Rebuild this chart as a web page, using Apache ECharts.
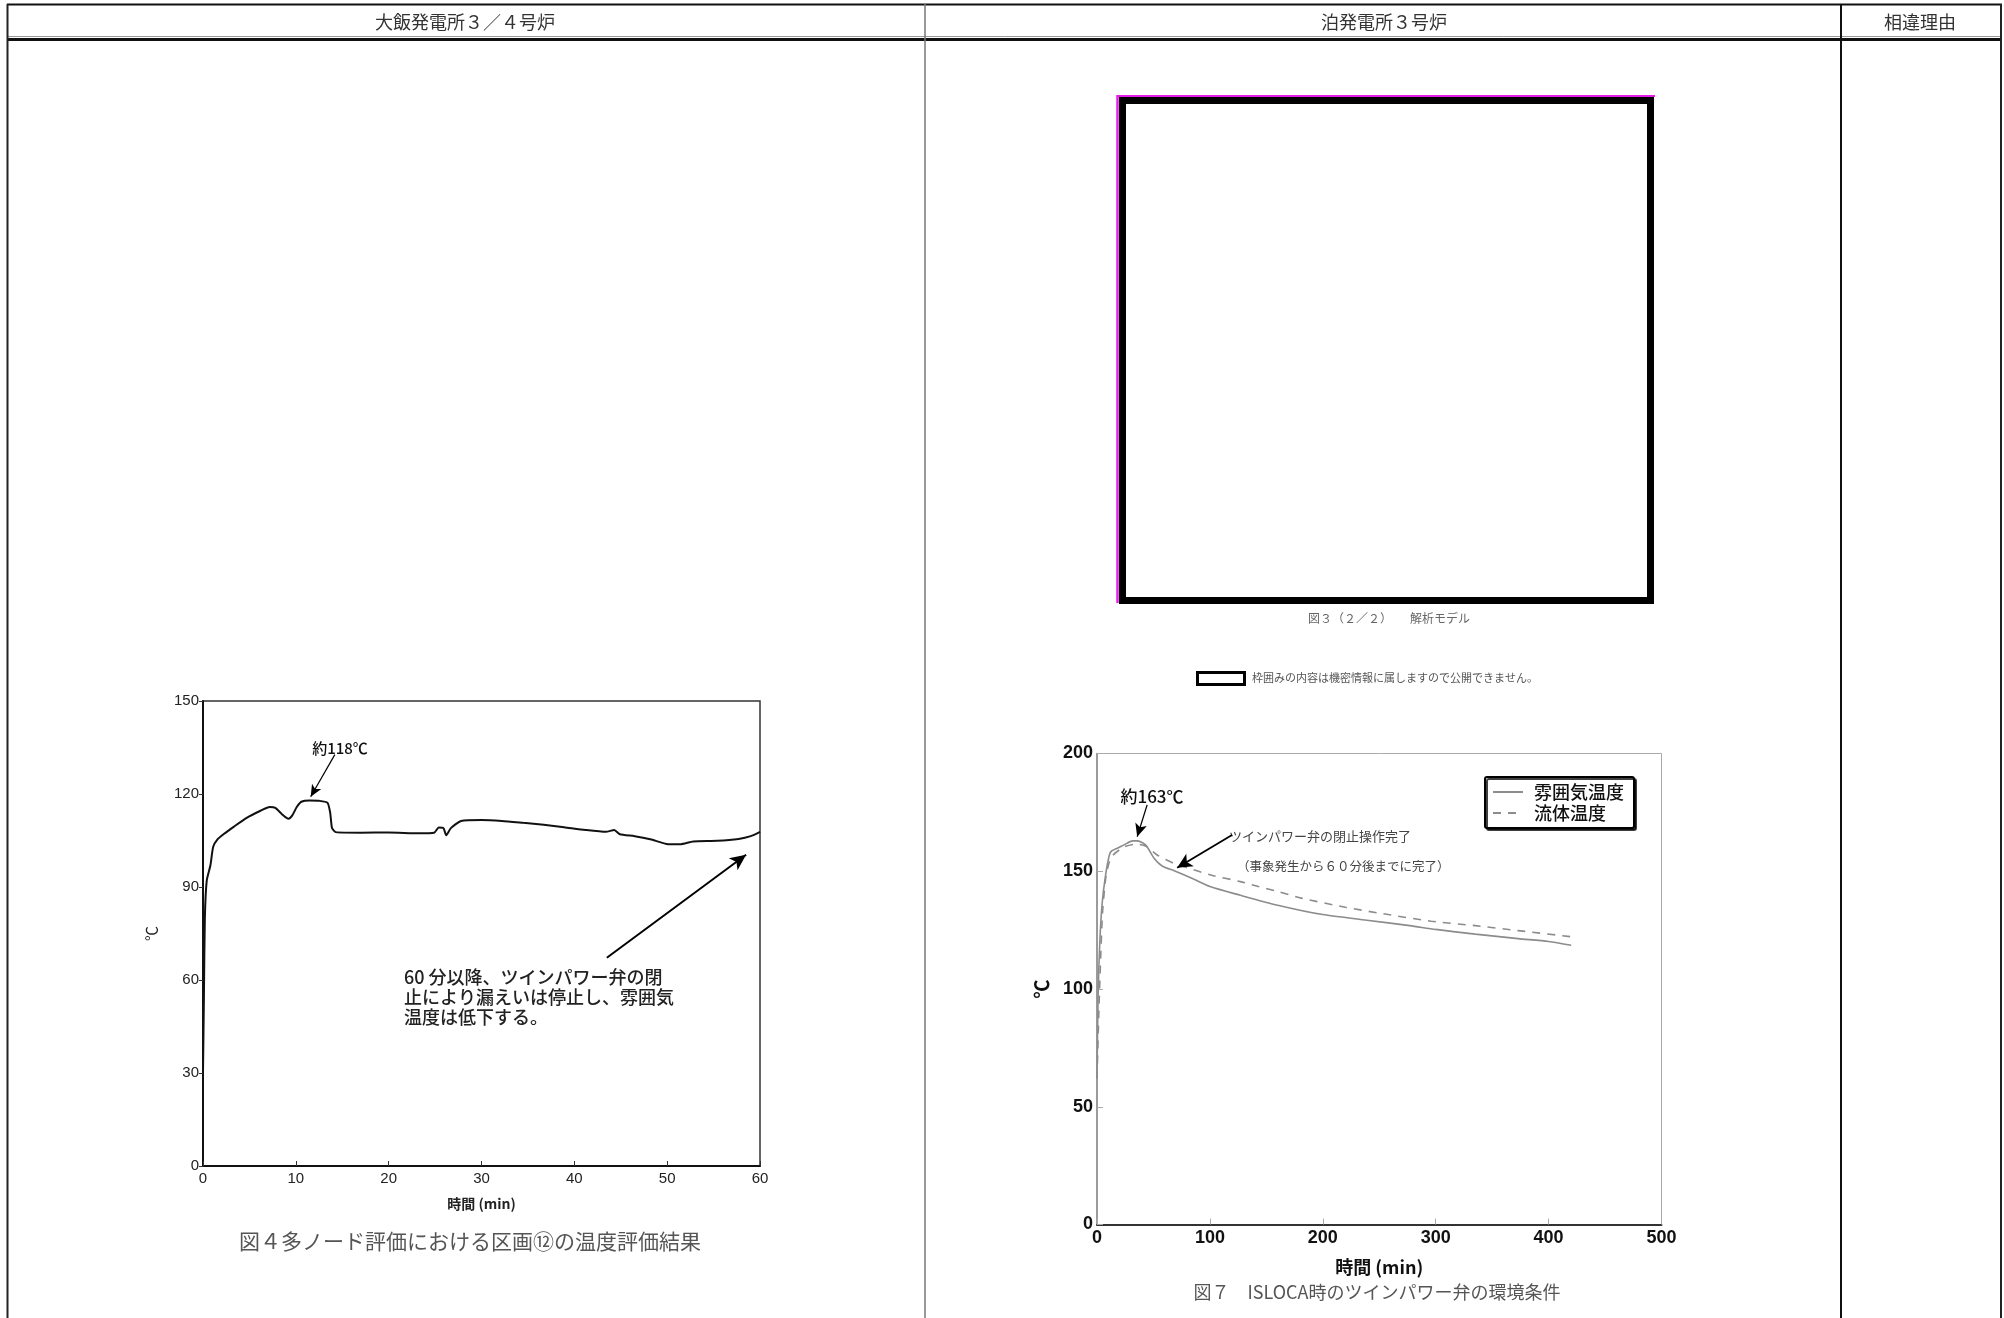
<!DOCTYPE html>
<html>
<head>
<meta charset="utf-8">
<title>ツインパワー弁の温度評価</title>
<script src="https://cdn.jsdelivr.net/npm/echarts@6/dist/echarts.min.js"></script>
<style>
  html, body { margin: 0; padding: 0; background: #fff; }
  #c { width: 2004px; height: 1318px; }
</style>
</head>
<body>
<div id="c"></div>
<script>
// 大飯発電所 図4: 区画⑫の雰囲気温度 (時間 min, ℃)
const leftTime = [0, 0.1, 0.2, 0.4, 0.8, 1.1, 1.6, 2.2, 3.3, 4.7, 6.2, 7.2, 7.8, 8.5, 9.2, 9.6, 10.1, 10.6, 11.5, 12.5, 13.4, 13.7, 13.9, 14.3, 17, 20, 23.3, 24.9, 25.4, 25.9, 26.2, 26.7, 27.8, 30, 32.2, 34.5, 36.7, 38.9, 41.2, 43.4, 44.3, 44.9, 46.5, 48.3, 50.1, 51.4, 52.8, 55.4, 57.7, 59, 60];
const leftTemp = [30, 55, 80, 92, 97, 103, 105.5, 107, 109.4, 112.3, 114.6, 115.8, 115.5, 113.5, 112, 113, 115.8, 117.5, 117.9, 117.8, 117.2, 114, 109, 107.7, 107.5, 107.6, 107.3, 107.5, 109.2, 109, 106.7, 109, 111.3, 111.6, 111.3, 110.7, 110.1, 109.3, 108.4, 107.8, 108.4, 107, 106.4, 105.3, 103.8, 103.8, 104.7, 104.9, 105.5, 106.4, 107.8];

// 泊発電所 図7: 雰囲気温度 / 流体温度 (時間 min, ℃)
const atmTime = [0, 1, 2.5, 4.5, 7.5, 11, 13, 18, 24, 31.5, 36, 43.4, 50.7, 58, 68.4, 85, 100, 127, 160, 200, 239, 277, 300, 335, 373, 400, 420];
const atmTemp = [62, 98, 120, 136, 148, 157, 158.7, 159.8, 161.2, 162.9, 162.9, 161, 155.4, 152.1, 150.2, 146.8, 143.5, 139.8, 135.6, 131.6, 129.2, 126.9, 125.3, 123.3, 121.4, 120.2, 118.6];
const fluidTime = [0, 1.5, 3, 5, 8, 11, 14, 24, 34.5, 43.4, 53.7, 68.4, 80, 100, 127, 143, 160, 181, 220, 258, 296, 335, 373, 420];
const fluidTemp = [62, 88, 110, 133, 148, 154, 156.8, 160.3, 161.5, 160.6, 156.8, 153.3, 151.5, 148.5, 145.6, 143.5, 141.4, 138.6, 134.7, 131.6, 128.8, 126.9, 124.8, 122.2];

const seriesNames = ['雰囲気温度', '流体温度'];

// axis ranges
const leftX = { min: 0, max: 60, step: 10 };
const leftY = { min: 0, max: 150, step: 30 };
const rightX = { min: 0, max: 500, step: 100 };
const rightY = { min: 0, max: 200, step: 50 };

// annotation arrows, in data coordinates [time, temp]
const peakArrowL = [[14.2, 132.7], [11.6, 119.1]];
const closeArrowL = [[43.5, 67.2], [58.5, 100.4]];
const peakArrowR = [[44.4, 178.2], [35.6, 164.7]];
const closeArrowR = [[119.6, 165.4], [71, 151.5]];

const zip = (xs, ys) => xs.map((x, i) => [x, ys[i]]);

const CJK = "'Noto Sans CJK JP', 'Noto Sans', sans-serif";
const NARROW = "'Liberation Sans Narrow', 'Liberation Sans', 'Noto Sans CJK JP', sans-serif";

function hline(x1, x2, y, w, c) {
  return { type: 'line', silent: true, shape: { x1, y1: y, x2, y2: y }, style: { stroke: c, lineWidth: w } };
}
function vline(x, y1, y2, w, c) {
  return { type: 'line', silent: true, shape: { x1: x, y1, x2: x, y2 }, style: { stroke: c, lineWidth: w } };
}
function label(x, y, text, font, fill, align, extra) {
  return {
    type: 'text', silent: true, x, y,
    style: Object.assign({ text, font, fill, textAlign: align || 'center', verticalAlign: 'middle' }, extra || {})
  };
}

const chart = echarts.init(document.getElementById('c'), null, { renderer: 'canvas' });

const arrowStyle = (w) => ({ color: '#000', width: w, type: 'solid' });

chart.setOption({
  animation: false,
  backgroundColor: '#fff',
  grid: [
    { left: 203, top: 701, width: 557, height: 465, show: true, borderColor: '#333', borderWidth: 1.5, containLabel: false, outerBoundsMode: 'none' },
    { left: 1097, top: 753.5, width: 564.5, height: 471, show: true, borderColor: '#aaa', borderWidth: 1, containLabel: false, outerBoundsMode: 'none' }
  ],
  xAxis: [
    {
      type: 'value', gridIndex: 0, min: leftX.min, max: leftX.max, interval: leftX.step,
      axisLine: { show: true, onZero: false, lineStyle: { color: '#111', width: 2 } },
      axisTick: { show: true, inside: true, length: 5, lineStyle: { color: '#333', width: 1 } },
      axisLabel: { margin: 5, fontSize: 15, color: '#222', fontFamily: NARROW },
      splitLine: { show: false },
      name: '時間 (min)', nameLocation: 'middle', nameGap: 31,
      nameTextStyle: { fontSize: 14, fontWeight: 'bold', color: '#222', fontFamily: CJK }
    },
    {
      type: 'value', gridIndex: 1, min: rightX.min, max: rightX.max, interval: rightX.step,
      axisLine: { show: true, onZero: false, lineStyle: { color: '#333', width: 2 } },
      axisTick: { show: true, inside: true, length: 6, lineStyle: { color: '#aaa', width: 1 } },
      axisLabel: { margin: 5, fontSize: 18, fontWeight: 'bold', color: '#111', fontFamily: NARROW },
      splitLine: { show: false },
      name: '時間 (min)', nameLocation: 'middle', nameGap: 34,
      nameTextStyle: { fontSize: 18, fontWeight: 'bold', color: '#111', fontFamily: CJK }
    }
  ],
  yAxis: [
    {
      type: 'value', gridIndex: 0, min: leftY.min, max: leftY.max, interval: leftY.step,
      axisLine: { show: true, onZero: false, lineStyle: { color: '#111', width: 2 } },
      axisTick: { show: true, inside: false, length: 4, lineStyle: { color: '#333', width: 1 } },
      axisLabel: { margin: 4, fontSize: 15, color: '#222', fontFamily: NARROW },
      splitLine: { show: false },
      name: '℃', nameLocation: 'middle', nameGap: 44, nameRotate: 90,
      nameTextStyle: { fontSize: 15, color: '#222', fontFamily: CJK }
    },
    {
      type: 'value', gridIndex: 1, min: rightY.min, max: rightY.max, interval: rightY.step,
      axisLine: { show: true, onZero: false, lineStyle: { color: '#888', width: 1.5 } },
      axisTick: { show: true, inside: true, length: 6, lineStyle: { color: '#aaa', width: 1 } },
      axisLabel: { margin: 4, fontSize: 18, fontWeight: 'bold', color: '#111', fontFamily: NARROW },
      splitLine: { show: false },
      name: '℃', nameLocation: 'middle', nameGap: 46, nameRotate: 90,
      nameTextStyle: { fontSize: 19, fontWeight: 'bold', color: '#111', fontFamily: CJK }
    }
  ],
  legend: {
    data: seriesNames,
    left: 1485, top: 777,
    orient: 'vertical',
    itemWidth: 30, itemHeight: 14, itemGap: 3,
    padding: [6, 10, 6, 7],
    borderColor: '#000', borderWidth: 2, borderRadius: 2,
    backgroundColor: '#fff',
    shadowColor: 'rgba(0,0,0,0.75)', shadowOffsetX: 2, shadowOffsetY: 2, shadowBlur: 0,
    selectedMode: false,
    // line samples only, no point marker
    itemStyle: { opacity: 0, borderWidth: 0 },
    textStyle: { fontSize: 18, color: '#111', fontWeight: 500, fontFamily: CJK, padding: [0, 0, 0, 6] }
  },
  series: [
    {
      type: 'line', name: 'ooi', xAxisIndex: 0, yAxisIndex: 0,
      data: zip(leftTime, leftTemp),
      showSymbol: false, symbol: 'none', smooth: 0.2,
      lineStyle: { color: '#111', width: 2 },
      emphasis: { disabled: true },
      markLine: {
        silent: true, symbol: ['none', 'arrow'], symbolSize: [8, 12],
        label: { show: false }, emphasis: { disabled: true },
        lineStyle: arrowStyle(1.2),
        data: [
          [{ coord: peakArrowL[0] }, { coord: peakArrowL[1] }],
          [{ coord: closeArrowL[0], lineStyle: arrowStyle(2) }, { coord: closeArrowL[1], symbolSize: [11, 16] }]
        ]
      }
    },
    {
      type: 'line', name: seriesNames[0], xAxisIndex: 1, yAxisIndex: 1,
      data: zip(atmTime, atmTemp),
      showSymbol: false, symbol: 'none', smooth: 0.25,
      lineStyle: { color: '#8c8c8c', width: 1.6 },
      itemStyle: { color: '#8c8c8c' },
      emphasis: { disabled: true },
      markLine: {
        silent: true, symbol: ['none', 'arrow'], symbolSize: [9, 13],
        label: { show: false }, emphasis: { disabled: true },
        lineStyle: arrowStyle(1.3),
        data: [
          [{ coord: peakArrowR[0] }, { coord: peakArrowR[1] }],
          [{ coord: closeArrowR[0], lineStyle: arrowStyle(1.8) }, { coord: closeArrowR[1], symbolSize: [11, 15] }]
        ]
      }
    },
    {
      type: 'line', name: seriesNames[1], xAxisIndex: 1, yAxisIndex: 1,
      data: zip(fluidTime, fluidTemp),
      showSymbol: false, symbol: 'none', smooth: 0.25,
      lineStyle: { color: '#8c8c8c', width: 1.6, type: [8, 7] },
      itemStyle: { color: '#8c8c8c' },
      emphasis: { disabled: true }
    }
  ],
  graphic: [
    // table frame
    hline(7, 2002, 4.5, 2, '#111'),
    hline(7, 2002, 36.5, 1, '#999'),
    hline(7, 2002, 39.5, 3, '#111'),
    vline(7.5, 4, 1318, 2, '#222'),
    vline(925, 4, 1318, 1.5, '#777'),
    vline(1841, 4, 1318, 2, '#111'),
    vline(2001, 4, 1318, 2, '#222'),
    // header
    label(465, 22, '大飯発電所３／４号炉', '18px ' + CJK, '#333'),
    label(1384, 22, '泊発電所３号炉', '18px ' + CJK, '#333'),
    label(1920, 22, '相違理由', '18px ' + CJK, '#333'),
    // masked figure block
    { type: 'rect', silent: true, shape: { x: 1122.5, y: 100.5, width: 528, height: 500 }, style: { fill: 'none', stroke: '#000', lineWidth: 7 } },
    hline(1117, 1655, 96, 2, '#e81ce8'),
    vline(1117.5, 95, 603, 2.5, '#e81ce8'),
    label(1389, 618, '図３（２／２）　　解析モデル', '12px ' + CJK, '#666'),
    { type: 'rect', silent: true, shape: { x: 1197.5, y: 672.5, width: 47, height: 12 }, style: { fill: '#fff', stroke: '#000', lineWidth: 3 } },
    label(1252, 678, '枠囲みの内容は機密情報に属しますので公開できません。', '11px ' + CJK, '#555', 'left'),
    // left chart annotations
    label(340, 748, '約118℃', '500 15px ' + CJK, '#111'),
    label(404, 997, '60 分以降、ツインパワー弁の閉\n止により漏えいは停止し、雰囲気\n温度は低下する。', '500 18px ' + CJK, '#222', 'left', { lineHeight: 20 }),
    label(470, 1241, '図４多ノード評価における区画⑫の温度評価結果', '21px ' + CJK, '#555'),
    // right chart annotations
    label(1152, 797, '約163℃', '500 17px ' + CJK, '#111'),
    label(1229, 836, 'ツインパワー弁の閉止操作完了', '13px ' + CJK, '#444', 'left'),
    label(1237, 866, '（事象発生から６０分後までに完了）', '12.5px ' + CJK, '#444', 'left'),
    label(1377, 1292, '図７　ISLOCA時のツインパワー弁の環境条件', '18px ' + CJK, '#555')
  ]
});
</script>
</body>
</html>
